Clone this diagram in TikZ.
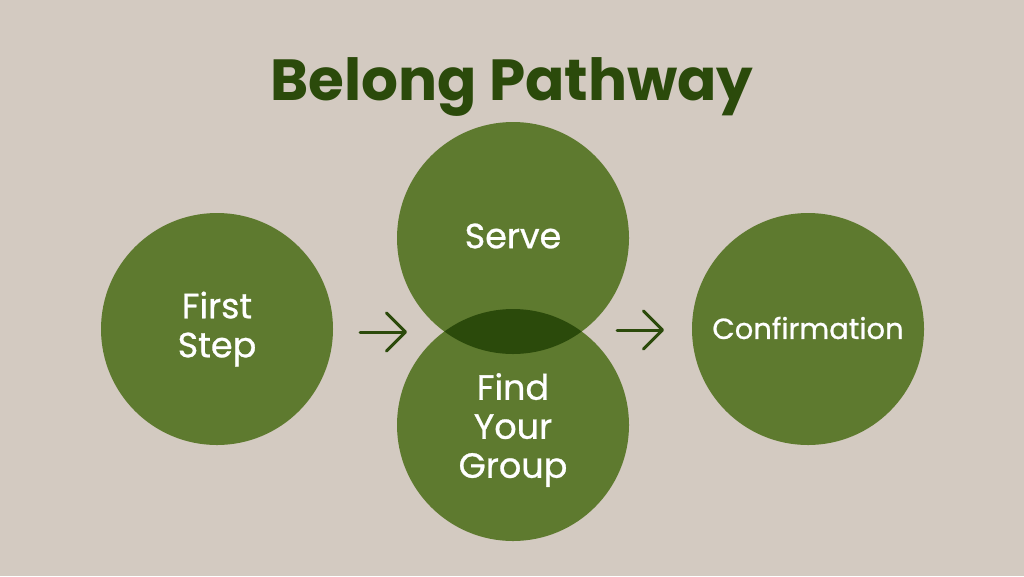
\documentclass[tikz,border=0pt]{standalone}
\usepackage{fontspec}
\setmainfont{Poppins}
\newfontface\labelfont{Poppins}[FakeBold=0.8]
\usetikzlibrary{arrows.meta}
\definecolor{bgc}{HTML}{D3CAC1}
\definecolor{leaf}{HTML}{5E7A2F}
\definecolor{deep}{HTML}{2B4A0B}
\tikzset{
  stepcircle/.style={circle,fill=leaf,minimum size=232pt,inner sep=0pt},
  steplabel/.style={text=white,align=center,font=\labelfont\fontsize{35}{39}\selectfont},
  flowarrow/.style={draw=deep,line width=3pt,line cap=round,-{Straight Barb[length=19pt,width=38pt,line width=3pt,round]}}
}
\begin{document}
\begin{tikzpicture}[x=1pt,y=-1pt]
\fill[bgc] (0,0) rectangle (1024,576);
\useasboundingbox (0,0) rectangle (1024,576);
\node[text=deep,font=\fontsize{58}{64}\selectfont\bfseries,anchor=base] (title) at (512,100) {Belong Pathway};
\node[stepcircle] (first) at (217,329) {};
\node[stepcircle] (serve) at (513,238) {};
\node[stepcircle] (group) at (513,425) {};
\node[stepcircle] (conf) at (808,329) {};
\begin{scope}
  \clip (513,238) circle (116);
  \fill[deep] (513,425) circle (116);
\end{scope}
\node[steplabel] (firstt) at (217,329) {First\\Step};
\node[steplabel] (servet) at (513,236) {Serve};
\node[steplabel] (groupt) at (513,430) {Find\\Your\\Group};
\node[steplabel,font=\labelfont\fontsize{29}{34}\selectfont] (conft) at (808,328) {Confirmation};
\coordinate (a1s) at (360,332);
\coordinate (a1e) at (407,332);
\coordinate (a2s) at (617,330);
\coordinate (a2e) at (664,330);
\draw[flowarrow] (a1s) -- (a1e);
\draw[flowarrow] (a2s) -- (a2e);
\end{tikzpicture}
\end{document}
